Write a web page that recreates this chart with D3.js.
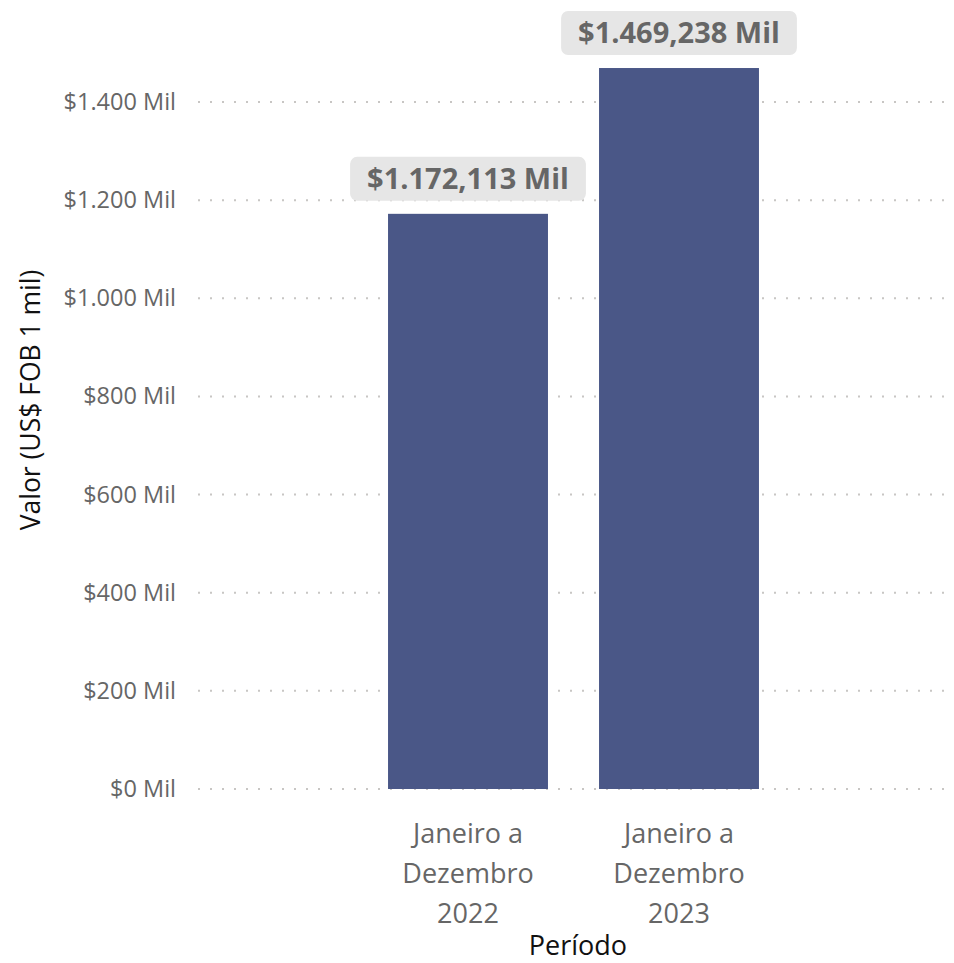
<!DOCTYPE html>
<html>
<head>
<meta charset="utf-8">
<script src="https://cdn.jsdelivr.net/npm/d3@7"></script>
<style>
  body { margin: 0; background: #fff; }
  text { font-family: "Open Sans", "Noto Sans", sans-serif; }
</style>
</head>
<body>
<svg id="chart" width="954" height="963"></svg>
<script>
// data
var periods = ["Janeiro a Dezembro 2022", "Janeiro a Dezembro 2023"];
var periodLines = [["Janeiro a", "Dezembro", "2022"], ["Janeiro a", "Dezembro", "2023"]];
var values = [1172.113, 1469.238];
var labels = ["$1.172,113 Mil", "$1.469,238 Mil"];
var yTicks = [0, 200, 400, 600, 800, 1000, 1200, 1400];
var yTickLabels = ["$0 Mil", "$200 Mil", "$400 Mil", "$600 Mil", "$800 Mil", "$1.000 Mil", "$1.200 Mil", "$1.400 Mil"];

var svg = d3.select("#chart");
var gridLeft = 198, gridRight = 945;

var y = d3.scaleLinear().domain([0, 1400]).range([789, 102]);
var x = d3.scaleBand().domain(periods).range([362.5, 784.5]).paddingInner(0.242).paddingOuter(0.121);

// gridlines (dotted)
svg.append("g").selectAll("line")
  .data(yTicks)
  .join("line")
  .attr("x1", gridLeft).attr("x2", gridRight)
  .attr("y1", function(d) { return y(d); })
  .attr("y2", function(d) { return y(d); })
  .style("stroke", "#c8c6c4")
  .style("stroke-width", "2px")
  .style("stroke-dasharray", "2,10");

// y axis labels
var yAxis = d3.axisLeft(y).tickValues(yTicks)
  .tickFormat(function(d, i) { return yTickLabels[i]; })
  .tickSize(0).tickPadding(0);
var ya = svg.append("g").attr("transform", "translate(176,0)").call(yAxis);
ya.select(".domain").remove();
ya.selectAll("text")
  .style("font-family", "\"Open Sans\", sans-serif")
  .style("font-size", "23.5px")
  .style("fill", "#666666");

// bars
svg.append("g").selectAll("rect")
  .data(values)
  .join("rect")
  .attr("x", function(d, i) { return x(periods[i]); })
  .attr("width", x.bandwidth())
  .attr("y", function(d) { return y(d); })
  .attr("height", function(d) { return y(0) - y(d); })
  .style("fill", "#4a5787");

// x labels
var xl = svg.append("g").selectAll("text")
  .data(periods)
  .join("text")
  .attr("text-anchor", "middle")
  .style("font-size", "27px")
  .style("fill", "#666666");
xl.each(function(d, i) {
  var t = d3.select(this);
  periodLines[i].forEach(function(line, j) {
    t.append("tspan")
      .attr("x", x(d) + x.bandwidth() / 2)
      .attr("y", 843 + j * 40)
      .text(line);
  });
});

// data labels with background
var lbl = svg.append("g").selectAll("g")
  .data(values)
  .join("g");
lbl.each(function(d, i) {
  var g = d3.select(this);
  var cx = x(periods[i]) + x.bandwidth() / 2;
  var rect = g.append("rect");
  var t = g.append("text")
    .attr("x", cx)
    .attr("y", y(d) - 25)
    .attr("text-anchor", "middle")
    .style("font-size", "29px")
    .style("font-weight", "bold")
    .style("fill", "#666666")
    .text(labels[i]);
  var bb = t.node().getBBox();
  rect.attr("x", cx - bb.width / 2 - 17)
    .attr("y", y(d) - 57)
    .attr("width", bb.width + 34)
    .attr("height", 44)
    .attr("rx", 7)
    .style("fill", "#e6e6e6");
});

// axis titles
svg.append("text")
  .attr("transform", "translate(40,400) rotate(-90)")
  .attr("text-anchor", "middle")
  .style("font-size", "26.5px")
  .style("fill", "#111")
  .text("Valor (US$ FOB 1 mil)");

svg.append("text")
  .attr("x", 578).attr("y", 955)
  .attr("text-anchor", "middle")
  .style("font-size", "27px")
  .style("fill", "#111")
  .text("Período");
</script>
</body>
</html>
